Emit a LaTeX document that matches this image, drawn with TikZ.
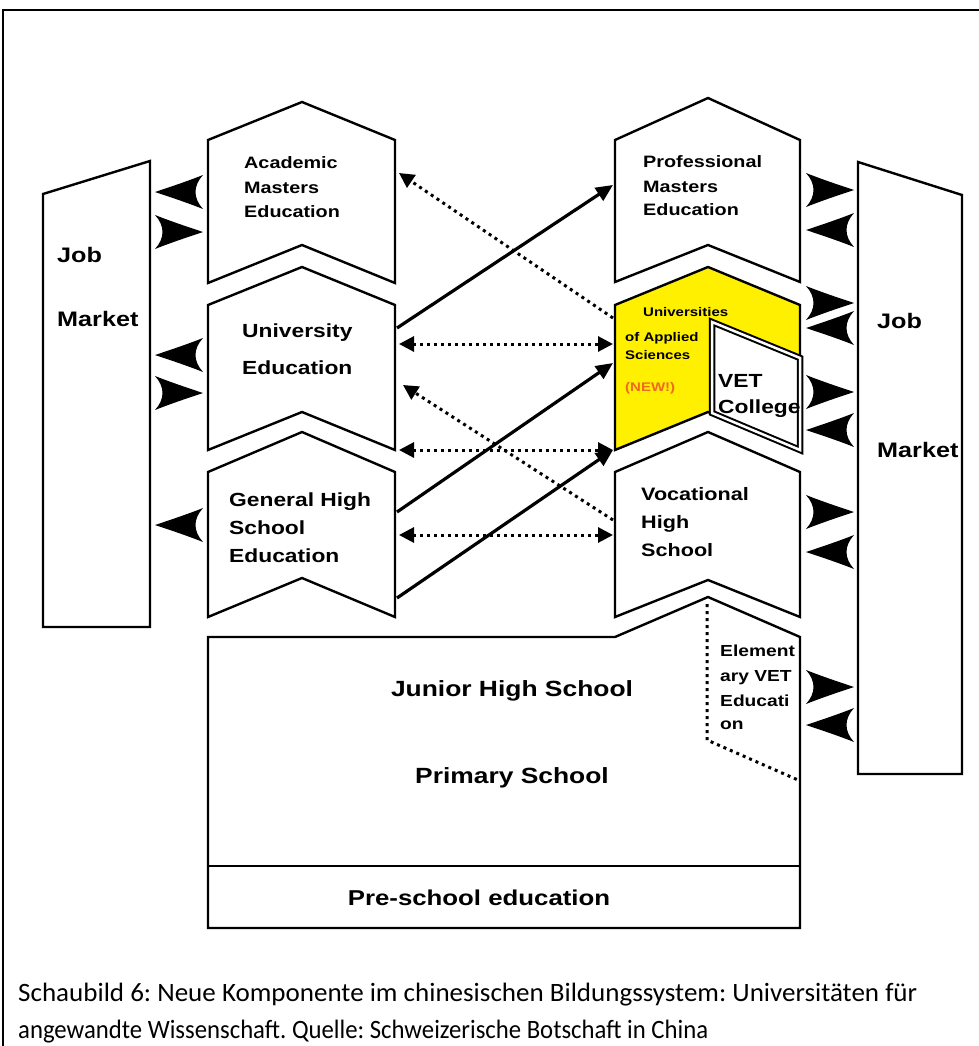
\documentclass[tikz,border=0pt]{standalone}
\usepackage{fontspec}
\setmainfont{Liberation Sans}
\newfontfamily\dgfont[FakeStretch=1.2]{Liberation Sans}
\newfontfamily\cpfont{Carlito}
\usetikzlibrary{arrows.meta}
\definecolor{uasyellow}{RGB}{255,240,0}
\definecolor{neworange}{RGB}{240,105,35}
\frenchspacing
\begin{document}
\begin{tikzpicture}[x=1pt,y=-1pt,
  boxline/.style={draw=black, line width=2.4pt, line join=miter, fill=white},
  frameline/.style={draw=black, line width=2pt},
  lbl/.style={anchor=base west, inner sep=0pt, font=\dgfont\bfseries},
  clbl/.style={anchor=base, inner sep=0pt, font=\dgfont\bfseries},
  solidarrow/.style={draw=black, line width=3.2pt, -{Triangle[length=17pt,width=15pt]}},
  dotline/.style={draw=black, line width=3pt, dash pattern=on 3pt off 4pt},
  jmarrow/.pic={\fill[black] (0,0) .. controls (15,-5) and (33,-11) .. (48,-17)
     .. controls (38,-6) and (38,6) .. (48,17) .. controls (33,11) and (15,5) .. (0,0) -- cycle;}
]
\useasboundingbox (0,0) rectangle (979,1046);
\fill[white] (0,0) rectangle (979,1046);
\draw[frameline] (3,1050) -- (3,10) -- (985,10);

% Job market boxes
\draw[boxline] (43,194) -- (150,161) -- (150,627) -- (43,627) -- cycle;
\draw[boxline] (858,162) -- (962,195) -- (962,774) -- (858,774) -- cycle;

% left column
\draw[boxline] (208,140) -- (302,102) -- (395,140) -- (395,283) -- (302,245) -- (208,283) -- cycle;
\draw[boxline] (208,305) -- (302,267) -- (395,305) -- (395,450) -- (302,412) -- (208,450) -- cycle;
\draw[boxline] (208,472) -- (302,432) -- (395,472) -- (395,617) -- (302,578) -- (208,617) -- cycle;
% right column
\draw[boxline] (615,140) -- (708,98) -- (800,140) -- (800,282) -- (708,245) -- (615,282) -- cycle;
\draw[boxline, fill=uasyellow] (615,305) -- (708,267) -- (800,305) -- (800,450) -- (708,412) -- (615,450) -- cycle;
\draw[draw=black, line width=2pt, double=white, double distance=2.5pt, fill=white, line join=miter]
  (712,322) -- (800,358) -- (800,450) -- (712,413) -- cycle;
\draw[boxline] (615,472) -- (708,432) -- (800,472) -- (800,617) -- (708,580) -- (615,617) -- cycle;
% bottom boxes
\draw[boxline] (208,637) -- (615,637) -- (708,597) -- (800,637) -- (800,928) -- (208,928) -- cycle;
\draw[boxline] (208,866) -- (800,866);

% texts
\node[lbl, font=\dgfont\bfseries\fontsize{21}{21}\selectfont] (jm1a) at (57,262) {Job};
\node[lbl, font=\dgfont\bfseries\fontsize{21}{21}\selectfont] (jm1b) at (57,326) {Market};
\node[lbl, font=\dgfont\bfseries\fontsize{21}{21}\selectfont] (jm2a) at (877,328) {Job};
\node[lbl, font=\dgfont\bfseries\fontsize{21}{21}\selectfont] (jm2b) at (877,457) {Market};

\node[lbl, font=\dgfont\bfseries\fontsize{16.5}{16.5}\selectfont] (am1) at (244,168) {Academic};
\node[lbl, font=\dgfont\bfseries\fontsize{16.5}{16.5}\selectfont] (am2) at (244,193) {Masters};
\node[lbl, font=\dgfont\bfseries\fontsize{16.5}{16.5}\selectfont] (am3) at (244,217) {Education};

\node[lbl, font=\dgfont\bfseries\fontsize{16.5}{16.5}\selectfont] (pm1) at (643,167) {Professional};
\node[lbl, font=\dgfont\bfseries\fontsize{16.5}{16.5}\selectfont] (pm2) at (643,192) {Masters};
\node[lbl, font=\dgfont\bfseries\fontsize{16.5}{16.5}\selectfont] (pm3) at (643,215) {Education};

\node[lbl, font=\dgfont\bfseries\fontsize{19}{19}\selectfont] (ue1) at (242,337) {University};
\node[lbl, font=\dgfont\bfseries\fontsize{19}{19}\selectfont] (ue2) at (242,374) {Education};

\node[lbl, font=\dgfont\bfseries\fontsize{19}{19}\selectfont] (gh1) at (229,506) {General High};
\node[lbl, font=\dgfont\bfseries\fontsize{19}{19}\selectfont] (gh2) at (229,534) {School};
\node[lbl, font=\dgfont\bfseries\fontsize{19}{19}\selectfont] (gh3) at (229,562) {Education};

\node[lbl, font=\dgfont\bfseries\fontsize{18}{18}\selectfont] (vh1) at (641,500) {Vocational};
\node[lbl, font=\dgfont\bfseries\fontsize{18}{18}\selectfont] (vh2) at (641,528) {High};
\node[lbl, font=\dgfont\bfseries\fontsize{18}{18}\selectfont] (vh3) at (641,556) {School};

\node[lbl, font=\dgfont\bfseries\fontsize{12.5}{12.5}\selectfont] (ua1) at (643,316) {Universities};
\node[lbl, font=\dgfont\bfseries\fontsize{12.5}{12.5}\selectfont] (ua2) at (625,341) {of Applied};
\node[lbl, font=\dgfont\bfseries\fontsize{12.5}{12.5}\selectfont] (ua3) at (625,359) {Sciences};
\node[lbl, font=\dgfont\bfseries\fontsize{12.5}{12.5}\selectfont, text=neworange] (ua4) at (625,391) {(NEW!)};

\node[lbl, font=\dgfont\bfseries\fontsize{19}{19}\selectfont] (vc1) at (718,387) {VET};
\node[lbl, font=\dgfont\bfseries\fontsize{19}{19}\selectfont] (vc2) at (718,413) {College};

\node[lbl, font=\dgfont\bfseries\fontsize{16}{16}\selectfont] (ev1) at (720,656) {Element};
\node[lbl, font=\dgfont\bfseries\fontsize{16}{16}\selectfont] (ev2) at (720,681) {ary VET};
\node[lbl, font=\dgfont\bfseries\fontsize{16}{16}\selectfont] (ev3) at (720,706) {Educati};
\node[lbl, font=\dgfont\bfseries\fontsize{16}{16}\selectfont] (ev4) at (720,729) {on};

\node[clbl, font=\dgfont\bfseries\fontsize{22}{22}\selectfont] (jh) at (512,696) {Junior High School};
\node[clbl, font=\dgfont\bfseries\fontsize{22}{22}\selectfont] (ps) at (512,783) {Primary School};
\node[clbl, font=\dgfont\bfseries\fontsize{21.5}{21.5}\selectfont] (pre) at (479,905) {Pre-school education};

% caption
\node[anchor=base west, inner sep=0pt, font=\cpfont\fontsize{26.5}{26.5}\selectfont] (cap1) at (18,1001)
  {\resizebox{899pt}{\height}{Schaubild 6: Neue Komponente im chinesischen Bildungssystem: Universitäten für}};
\node[anchor=base west, inner sep=0pt, font=\cpfont\fontsize{26.5}{26.5}\selectfont] (cap2) at (18,1038)
  {\resizebox{690pt}{\height}{angewandte Wissenschaft. Quelle: Schweizerische Botschaft in China}};

% connector end points
\coordinate (ueA) at (397,328);  \coordinate (pmA) at (613,185);
\coordinate (uasA) at (613,318); \coordinate (amA) at (399,173);
\coordinate (ueB) at (399,344);  \coordinate (uasB) at (613,344);
\coordinate (ghA) at (397,512);  \coordinate (uasC) at (613,363);
\coordinate (ghB) at (397,598);  \coordinate (uasD) at (613,450);
\coordinate (ueC) at (399,450);  \coordinate (uasE) at (613,450);
\coordinate (ghC) at (399,535);  \coordinate (vhA) at (613,535);
\coordinate (vhB) at (613,520);  \coordinate (ueD) at (403,385);
\coordinate (evA) at (707,604);  \coordinate (evB) at (707,740);  \coordinate (evC) at (798,780);

\draw[solidarrow] (ueA) -- (pmA);
\draw[solidarrow] (ghA) -- (uasC);
\draw[solidarrow] (ghB) -- (uasD);
\draw[dotline, -{Triangle[length=15pt,width=15pt]}] (uasA) -- (amA);
\draw[dotline, {Triangle[length=15pt,width=15pt]}-{Triangle[length=15pt,width=15pt]}] (ueB) -- (uasB);
\draw[dotline, {Triangle[length=15pt,width=15pt]}-{Triangle[length=15pt,width=15pt]}] (ueC) -- (uasE);
\draw[dotline, {Triangle[length=15pt,width=15pt]}-{Triangle[length=15pt,width=15pt]}] (ghC) -- (vhA);
\draw[dotline, -{Triangle[length=15pt,width=15pt]}] (vhB) -- (ueD);
\draw[dotline] (evA) -- (evB) -- (evC);

% job market arrowheads (left)
\pic at (155,192) {jmarrow};
\pic[xscale=-1] at (203,232) {jmarrow};
\pic at (155,355) {jmarrow};
\pic[xscale=-1] at (203,393) {jmarrow};
\pic at (155,525) {jmarrow};
% right
\pic[xscale=-1] at (854,190) {jmarrow};
\pic at (806,230) {jmarrow};
\pic[xscale=-1] at (854,303) {jmarrow};
\pic at (806,328) {jmarrow};
\pic[xscale=-1] at (854,392) {jmarrow};
\pic at (806,430) {jmarrow};
\pic[xscale=-1] at (854,512) {jmarrow};
\pic at (806,552) {jmarrow};
\pic[xscale=-1] at (854,687) {jmarrow};
\pic at (806,725) {jmarrow};
\end{tikzpicture}
\end{document}
